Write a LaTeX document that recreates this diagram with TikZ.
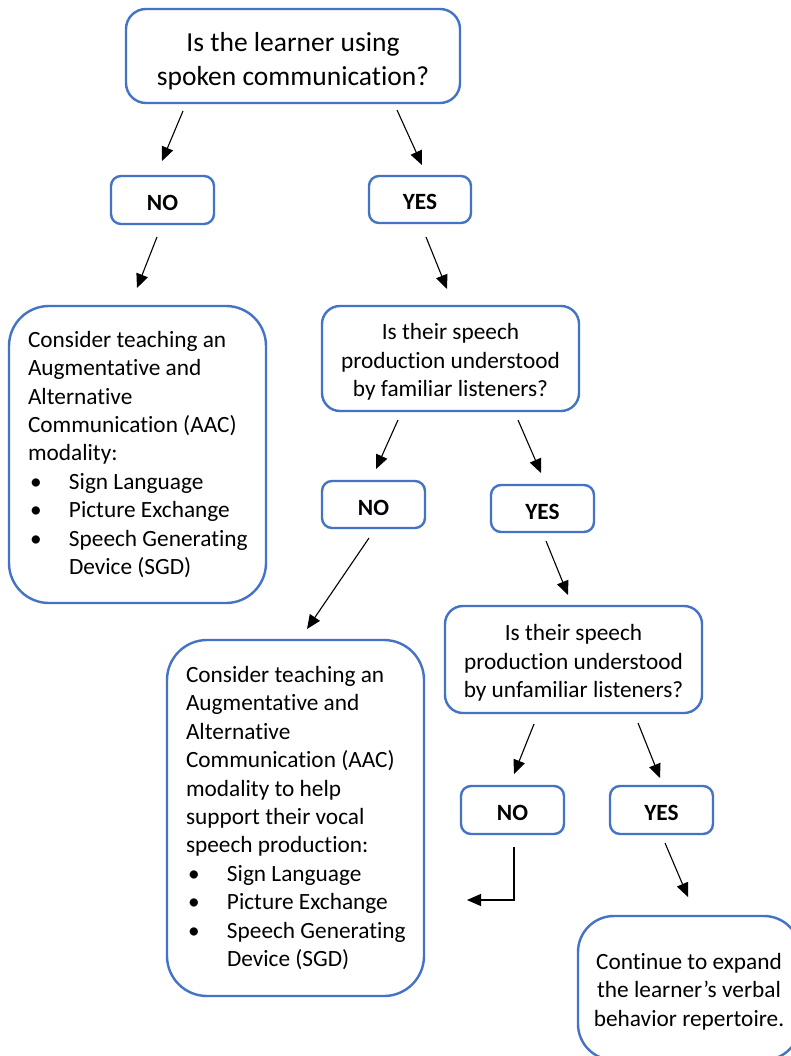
\documentclass[tikz,border=0pt]{standalone}
\usepackage{fontspec}
\setmainfont{Carlito}[Ligatures=NoCommon]
\usetikzlibrary{arrows.meta}
\definecolor{boxblue}{RGB}{68,114,196}
\newcommand{\bli}[1]{\mbox{\makebox[41pt][l]{\hspace{2pt}\textbullet}#1}}
\newcommand{\lowr}[1]{\rule{0pt}{#1}}
\tikzset{
  box/.style={draw=boxblue, line width=2.4pt, fill=white, rounded corners=#1, inner sep=0pt, align=center,
    font=\fontsize{23.3}{28.4}\selectfont},
  box/.default=10pt,
  lbox/.style={box=#1, align=flush left, inner xsep=19pt, text width=219pt},
  yn/.style={box=10pt, font=\fontsize{23.3}{28}\selectfont\bfseries, minimum width=103pt, minimum height=48pt,
    text height=21pt, text depth=0pt},
  arr/.style={line width=1.1pt, -{Triangle[length=14pt,width=12pt]}}
}
\begin{document}
\begin{tikzpicture}[x=1pt,y=-1pt]
\useasboundingbox (0,0) rectangle (791,1056);
\clip (0,0) rectangle (791,1056);
\fill[white] (0,0) rectangle (791,1056);

\node[box=20pt, minimum width=334pt, minimum height=94pt, font=\fontsize{27.5}{34}\selectfont] (q1) at (293,56)
  {\lowr{28.5pt}Is the learner using\\spoken communication?};
\node[yn] (no1) at (162.5,200) {NO};
\node[yn, minimum width=102pt, minimum height=47pt] (yes1) at (420,199.5) {YES};
\node[lbox=40pt, minimum height=297pt] (aac1) at (137.5,454.5)
  {\mbox{Consider teaching an}\\\mbox{Augmentative and}\\\mbox{Alternative}\\\mbox{Communication (AAC)}\\\mbox{modality:}\\
   \bli{Sign Language}\\\bli{Picture Exchange}\\\bli{Speech Generating}\\\mbox{\hspace*{41pt}Device (SGD)}};
\node[box=18pt, minimum width=257pt, minimum height=105pt] (q2) at (450.5,358.5)
  {\lowr{23.5pt}Is their speech\\production understood\\by familiar listeners?};
\node[yn, minimum height=47pt] (no2) at (373.5,504.5) {NO};
\node[yn, minimum height=47pt] (yes2) at (542.5,508.5) {YES};
\node[lbox=40pt, minimum height=356pt] (aac2) at (295.5,818)
  {\mbox{Consider teaching an}\\\mbox{Augmentative and}\\\mbox{Alternative}\\\mbox{Communication (AAC)}\\\mbox{modality to help}\\\mbox{support their vocal}\\\mbox{speech production:}\\
   \bli{Sign Language}\\\bli{Picture Exchange}\\\bli{Speech Generating}\\\mbox{\hspace*{41pt}Device (SGD)}};
\node[box=18pt, minimum width=257pt, minimum height=107pt] (q3) at (573.5,659.5)
  {\lowr{23.5pt}Is their speech\\production understood\\by unfamiliar listeners?};
\node[yn] (no3) at (512.5,810) {NO};
\node[yn] (yes3) at (661.5,810) {YES};
\node[box=36pt, minimum width=222pt, minimum height=144pt] (fin) at (689,988)
  {\lowr{23.5pt}Continue to expand\\the learner’s verbal\\behavior repertoire.};

\coordinate (a1s) at (183,111);  \coordinate (a1e) at (162,161);
\coordinate (a2s) at (397,110);  \coordinate (a2e) at (422,165);
\coordinate (a3s) at (157,237);  \coordinate (a3e) at (137,288);
\coordinate (a4s) at (426,237);  \coordinate (a4e) at (447,289);
\coordinate (a5s) at (398,420);  \coordinate (a5e) at (376,469);
\coordinate (a6s) at (518,420);  \coordinate (a6e) at (541,473);
\coordinate (a7s) at (369,538);  \coordinate (a7e) at (307,629);
\coordinate (a8s) at (546,541);  \coordinate (a8e) at (568,595);
\coordinate (a9s) at (534,724);  \coordinate (a9e) at (514,774);
\coordinate (a10s) at (638,723); \coordinate (a10e) at (660,778);
\coordinate (a11s) at (514,847); \coordinate (a11e) at (467,900);
\coordinate (a12s) at (665,843); \coordinate (a12e) at (688,897);

\draw[arr] (a1s) -- (a1e);
\draw[arr] (a2s) -- (a2e);
\draw[arr] (a3s) -- (a3e);
\draw[arr] (a4s) -- (a4e);
\draw[arr] (a5s) -- (a5e);
\draw[arr] (a6s) -- (a6e);
\draw[arr] (a7s) -- (a7e);
\draw[arr] (a8s) -- (a8e);
\draw[arr] (a9s) -- (a9e);
\draw[arr] (a10s) -- (a10e);
\draw[arr] (a11s) |- (a11e);
\draw[arr] (a12s) -- (a12e);
\end{tikzpicture}
\end{document}
